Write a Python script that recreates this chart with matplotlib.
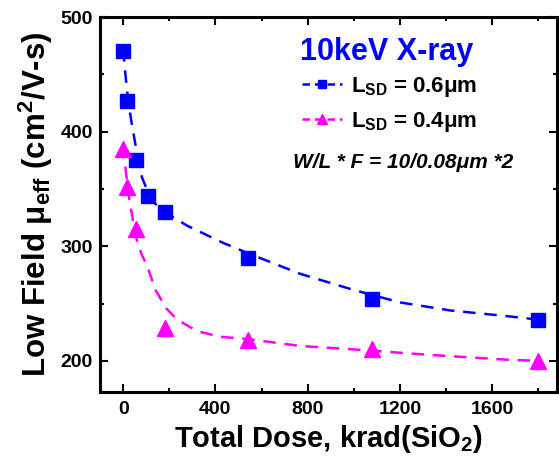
import matplotlib
matplotlib.use("Agg")
from matplotlib import pyplot as plt
from matplotlib.ticker import MultipleLocator
from matplotlib.lines import Line2D

plt.rcParams["font.family"] = ["Liberation Sans", "DejaVu Sans"]
plt.rcParams["font.weight"] = "bold"
plt.rcParams["mathtext.fontset"] = "custom"
plt.rcParams["mathtext.rm"] = "Liberation Sans:bold"
plt.rcParams["mathtext.it"] = "Liberation Sans:bold:italic"
plt.rcParams["mathtext.bf"] = "Liberation Sans:bold"

# measured points
dose_06 = [0, 18, 54, 108, 180, 540, 1080, 1800]
mu_06 = [470, 427, 375, 344, 330, 290, 254, 236]
dose_04 = [0, 18, 54, 180, 540, 1080, 1800]
mu_04 = [385, 352, 315, 229, 218, 210, 200]

# dashed fit curves
fit_x_06 = [0, 10, 17, 25, 39, 54, 82, 108, 140, 180, 277, 433, 540, 767, 997, 1200, 1417, 1664, 1800]
fit_y_06 = [472, 450, 436, 423, 405, 388, 360, 347, 337, 330, 318, 303, 294, 276, 262, 251, 244, 239, 236]
fit_x_04 = [0, 12, 26, 43, 60, 80, 104, 140, 186, 234, 320, 420, 540, 767, 997, 1343, 1664, 1800]
fit_y_04 = [388, 365, 342, 322, 305, 293, 283, 262, 246, 236, 226, 221, 219, 213, 210, 205, 201, 200]

blue = "#0000ff"
magenta = "#ff00ff"

fig = plt.figure(figsize=(5.59, 4.62), dpi=100)
ax = fig.add_axes([0.179, 0.152, 0.817, 0.811])

ax.plot(fit_x_06, fit_y_06, color=blue, lw=1.8, ls=(0, (5, 3.5)))
ax.plot(fit_x_04, fit_y_04, color=magenta, lw=1.8, ls=(0, (5, 3.5)))
ax.plot(dose_06, mu_06, ls="none", marker="s", ms=9.5, color=blue, mec=blue)
ax.plot(dose_04, mu_04, ls="none", marker="^", ms=11, color=magenta, mec=magenta)

ax.set_xlim(-100, 1880)
ax.set_ylim(173, 500)
ax.xaxis.set_major_locator(MultipleLocator(400))
ax.xaxis.set_minor_locator(MultipleLocator(200))
ax.yaxis.set_major_locator(MultipleLocator(100))
ax.yaxis.set_minor_locator(MultipleLocator(50))
ax.tick_params(which="both", direction="in", top=True, right=True, width=1.5, labelsize=14)
ax.tick_params(axis="x", pad=7)
ax.tick_params(axis="y", pad=5)
ax.tick_params(which="major", length=6)
ax.tick_params(which="minor", length=3)
for s in ax.spines.values():
    s.set_linewidth(2.2)
for lab in ax.get_xticklabels() + ax.get_yticklabels():
    lab.set_fontweight("bold")

ax.set_xlabel(r"Total Dose, krad(SiO$_{\mathregular{2}}$)", fontsize=21, fontweight="bold", labelpad=3)
ax.set_ylabel(r"Low Field μ$_{\mathregular{eff}}$ (cm$^{\mathregular{2}}$/V-s)", fontsize=22.5, fontweight="bold", labelpad=4)

ax.text(0.438, 0.907, "10keV X-ray", transform=ax.transAxes, color=blue, fontsize=22, fontweight="bold", va="center")

handles = [
    Line2D([], [], color=blue, lw=1.8, ls=(0, (3, 2)), marker="s", ms=6),
    Line2D([], [], color=magenta, lw=1.8, ls=(0, (3, 2)), marker="^", ms=7),
]
labels = [r"L$_{\mathregular{SD}}$ = 0.6μm", r"L$_{\mathregular{SD}}$ = 0.4μm"]
ax.legend(handles, labels, loc="upper left", bbox_to_anchor=(0.422, 0.869), frameon=False,
          prop={"size": 16, "weight": "bold"}, handlelength=1.8, handletextpad=0.4,
          labelspacing=0.5, borderaxespad=0)

ax.text(0.422, 0.611, "W/L * F = 10/0.08μm *2", transform=ax.transAxes, fontsize=15,
        fontweight="bold", style="italic", va="center")

fig.savefig("out.png", dpi=100)
